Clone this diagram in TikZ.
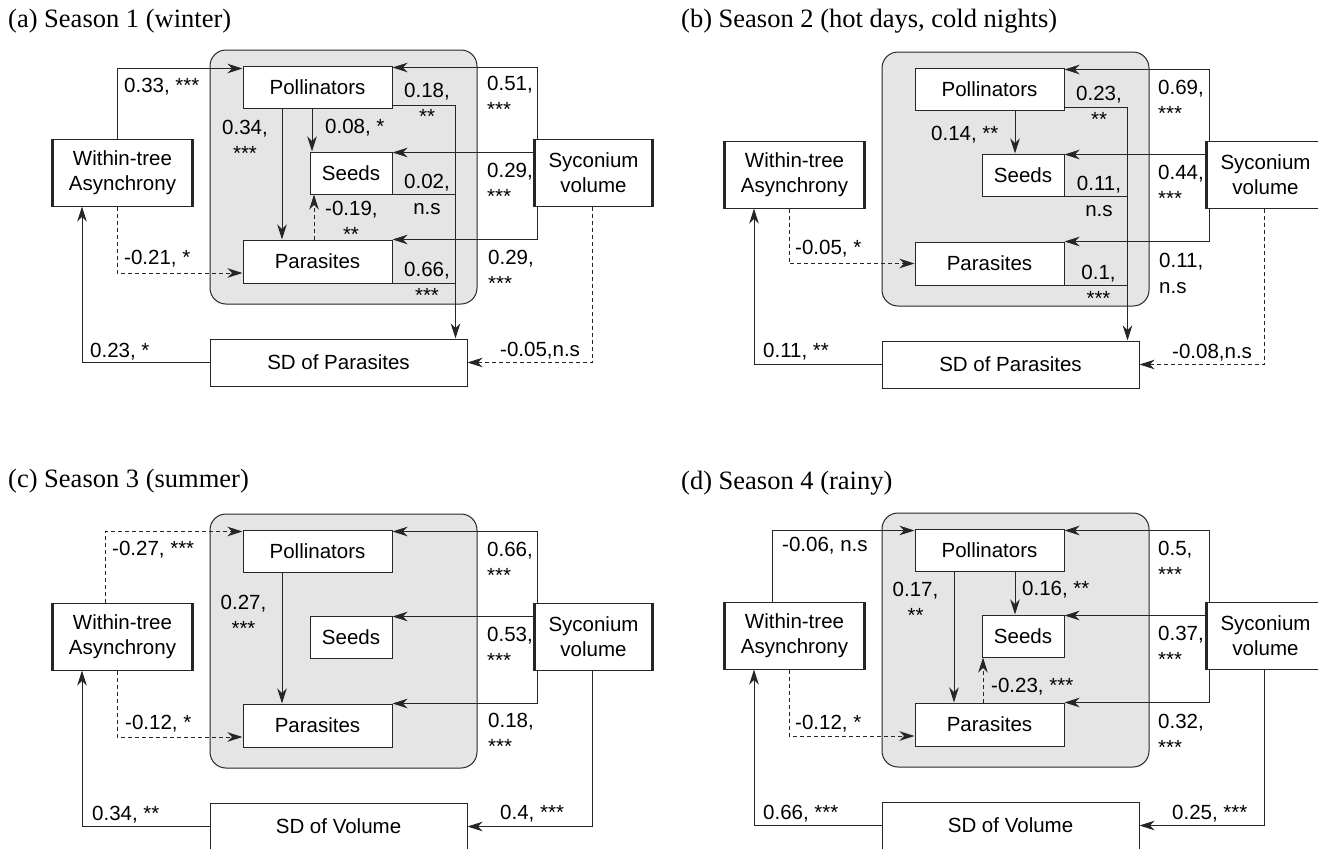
\documentclass[tikz,border=0pt]{standalone}
\usepackage{fontspec}
\newfontfamily\lsans{Liberation Sans}
\newfontfamily\lserif{Liberation Serif}
\usetikzlibrary{arrows.meta}
\newcommand\lblfont{\lsans\fontsize{20.5}{25}\selectfont}
\newcommand\ttlfont{\lserif\fontsize{26.5}{30}\selectfont}
\tikzset{
  box/.style={draw=black!85, line width=1pt, fill=white, inner sep=0pt, font=\lblfont, align=center},
  gbox/.style={draw=black!85, line width=1pt, fill=black!10, rounded corners=16pt, inner sep=0pt},
  con/.style={line width=1pt, draw=black!85},
  arr/.style={con, -{Stealth[length=15pt,width=9.5pt,inset=4.5pt]}},
  dsh/.style={dash pattern=on 4pt off 3pt},
  lab/.style={font=\lblfont, inner sep=0pt, anchor=base west},
  labc/.style={font=\lblfont, inner sep=0pt, anchor=base},
  ttl/.style={font=\ttlfont, inner sep=0pt, anchor=base west},
  edgethick/.style={line width=2.6pt, draw=black!85}
}
\newcommand\basepanel[2]{%
  \node[gbox, minimum width=267pt, minimum height=254pt] (#1G) at (343.5,177) {};
  \node[box, minimum width=149pt, minimum height=42pt] (#1P) at (317.5,87) {Pollinators};
  \node[box, minimum width=82pt, minimum height=42pt] (#1S) at (351,173) {Seeds};
  \node[box, minimum width=149pt, minimum height=43pt] (#1R) at (317.5,261.5) {Parasites};
  \node[box, minimum width=139pt, minimum height=67pt] (#1W) at (122.5,172.5) {Within-tree\\Asynchrony};
  \node[box, minimum width=117pt, minimum height=67pt] (#1V) at (593.5,172.5) {Syconium\\volume};
  \node[box, minimum width=257pt, minimum height=47pt] (#1D) at (338.5,362.5) {#2};
  \draw[edgethick] (#1W.north west) -- (#1W.south west);
  \draw[edgethick] (#1W.north east) -- (#1W.south east);
  \draw[edgethick] (#1V.north west) -- (#1V.south west);
  \draw[edgethick] (#1V.north east) -- (#1V.south east);
  \coordinate (#1J) at (455,0);
  \coordinate (#1M) at (117,0);
  \coordinate (#1K) at (537,0);
  % volume -> pollinators, seeds, parasites
  \draw[arr] (#1V.north -| #1K) |- ([yshift=-2pt]#1P.north east);
  \draw[arr] ([yshift=-14pt]#1V.north west) -- ([yshift=-1pt]#1S.north east);
  \draw[arr] (#1V.south -| #1K) |- (#1R.north east);
  % SD -> within
  \draw[arr] (#1D.west) -| ([xshift=-40.5pt]#1W.south);
}
\begin{document}
\begin{tikzpicture}[x=1pt,y=-1pt]
\useasboundingbox (0,0) rectangle (1318,849);
\clip (0,0) rectangle (1318,849);
\fill[white] (0,0) rectangle (1318,849);

% ---------------- (a) ----------------
\node[ttl] (aT) at (8,27) {(a) Season 1 (winter)};
\begin{scope}
\basepanel{a}{SD of Parasites}
\draw[arr] (aW.north -| aM) |- ([yshift=-3pt]aP.north west);
\draw[arr] ([yshift=3pt]aP.south east) -| ([xshift=-12pt]aD.north east);
\draw[con] (aS.south east) -- (aS.south east -| aJ);
\draw[con] (aR.south east) -- (aR.south east -| aJ);
\draw[arr] ([xshift=-35.5pt]aP.south) -- ([xshift=-35.5pt]aR.north);
\draw[arr] ([xshift=-5.5pt]aP.south) -- ([xshift=-39pt]aS.north);
\draw[arr,dsh] ([xshift=-3.5pt]aR.north) -- ([xshift=-37pt]aS.south);
\draw[arr,dsh] (aW.south -| aM) |- ([yshift=-11.5pt]aR.west);
\draw[arr,dsh] ([xshift=-1.5pt]aV.south) |- (aD.east);
\node[lab] (a1) at (124,92) {0.33, ***};
\node[labc] (a2) at (245,134) {0.34,};
\node[labc] (a3) at (245,160) {***};
\node[lab] (a4) at (325,133) {0.08, *};
\node[labc] (a5) at (427,97) {0.18,};
\node[labc] (a6) at (427,123) {**};
\node[labc] (a7) at (427,188) {0.02,};
\node[labc] (a8) at (427,214) {n.s};
\node[lab] (a9) at (325,215) {-0.19,};
\node[labc] (a10) at (351,241) {**};
\node[labc] (a11) at (427,276) {0.66,};
\node[labc] (a12) at (427,302) {***};
\node[lab] (a13) at (487,90) {0.51,};
\node[lab] (a14) at (487,116) {***};
\node[lab] (a15) at (487,177) {0.29,};
\node[lab] (a16) at (487,203) {***};
\node[lab] (a17) at (488,264) {0.29,};
\node[lab] (a18) at (488,290) {***};
\node[lab] (a19) at (124,264) {-0.21, *};
\node[lab] (a20) at (90,357) {0.23, *};
\node[lab] (a21) at (500,356) {-0.05,n.s};
\end{scope}

% ---------------- (b) ----------------
\node[ttl] (bT) at (681,27) {(b) Season 2 (hot days, cold nights)};
\begin{scope}[shift={(672,2)}]
\basepanel{b}{SD of Parasites}
\draw[arr] ([yshift=3pt]bP.south east) -| ([xshift=-12pt]bD.north east);
\draw[con] (bS.south east) -- (bS.south east -| bJ);
\draw[con] (bR.south east) -- (bR.south east -| bJ);
\draw[arr] ([xshift=25.5pt]bP.south) -- ([xshift=-8pt]bS.north);
\draw[arr,dsh] (bW.south -| bM) |- (bR.west);
\draw[arr,dsh] ([xshift=-1.5pt]bV.south) |- (bD.east);
\node[lab] (b1) at (486,92) {0.69,};
\node[lab] (b2) at (486,118) {***};
\node[lab] (b3) at (486,177) {0.44,};
\node[lab] (b4) at (486,203) {***};
\node[lab] (b5) at (487,265) {0.11,};
\node[lab] (b6) at (487,291) {n.s};
\node[labc] (b7) at (427,98) {0.23,};
\node[labc] (b8) at (427,124) {**};
\node[labc] (b9) at (427,188) {0.11,};
\node[labc] (b10) at (427,214) {n.s};
\node[labc] (b11) at (426.5,277) {0.1,};
\node[labc] (b12) at (426.5,303) {***};
\node[lab] (b13) at (259,138) {0.14, **};
\node[lab] (b14) at (123,252) {-0.05, *};
\node[lab] (b15) at (91,355) {0.11, **};
\node[lab] (b16) at (500,356) {-0.08,n.s};
\end{scope}

% ---------------- (c) ----------------
\node[ttl] (cT) at (8,487.5) {(c) Season 3 (summer)};
\begin{scope}[shift={(0,464)}]
\basepanel{c}{SD of Volume}
\draw[arr,dsh] ([xshift=-17.5pt]cW.north) |- ([yshift=-2pt]cP.north west);
\draw[arr] ([xshift=-35.5pt]cP.south) -- ([xshift=-35.5pt]cR.north);
\draw[arr,dsh] (cW.south -| cM) |- ([yshift=-11.5pt]cR.west);
\draw[arr] ([xshift=-1.5pt]cV.south) |- (cD.east);
\node[lab] (c1) at (112,91) {-0.27, ***};
\node[lab] (c2) at (487,92) {0.66,};
\node[lab] (c3) at (487,118) {***};
\node[lab] (c4) at (487,177) {0.53,};
\node[lab] (c5) at (487,203) {***};
\node[lab] (c6) at (488,263) {0.18,};
\node[lab] (c7) at (488,289) {***};
\node[labc] (c8) at (243.5,145) {0.27,};
\node[labc] (c9) at (243.5,171) {***};
\node[lab] (c10) at (125,265) {-0.12, *};
\node[lab] (c11) at (92,356) {0.34, **};
\node[lab] (c12) at (500,355) {0.4, ***};
\end{scope}

% ---------------- (d) ----------------
\node[ttl] (dT) at (681,489) {(d) Season 4 (rainy)};
\begin{scope}[shift={(672,463)}]
\basepanel{d}{SD of Volume}
\draw[arr] ([xshift=-22.5pt]dW.north) |- ([yshift=-2pt]dP.north west);
\draw[arr] ([xshift=-35.5pt]dP.south) -- ([xshift=-35.5pt]dR.north);
\draw[arr] ([xshift=25.5pt]dP.south) -- ([xshift=-8pt]dS.north);
\draw[arr,dsh] ([xshift=-6.5pt]dR.north) -- ([xshift=-40pt]dS.south);
\draw[arr,dsh] (dW.south -| dM) |- ([yshift=-11.5pt]dR.west);
\draw[arr] ([xshift=-1.5pt]dV.south) |- (dD.east);
\node[lab] (d1) at (110,88) {-0.06, n.s};
\node[lab] (d2) at (486,92) {0.5,};
\node[lab] (d3) at (486,118) {***};
\node[lab] (d4) at (486,177) {0.37,};
\node[lab] (d5) at (486,203) {***};
\node[lab] (d6) at (486,265) {0.32,};
\node[lab] (d7) at (486,291) {***};
\node[labc] (d8) at (243.5,133) {0.17,};
\node[labc] (d9) at (243.5,159) {**};
\node[lab] (d10) at (350,132) {0.16, **};
\node[lab] (d11) at (319,229) {-0.23, ***};
\node[lab] (d12) at (123,266) {-0.12, *};
\node[lab] (d13) at (91,356) {0.66, ***};
\node[lab] (d14) at (500,356) {0.25, ***};
\end{scope}
\end{tikzpicture}
\end{document}
